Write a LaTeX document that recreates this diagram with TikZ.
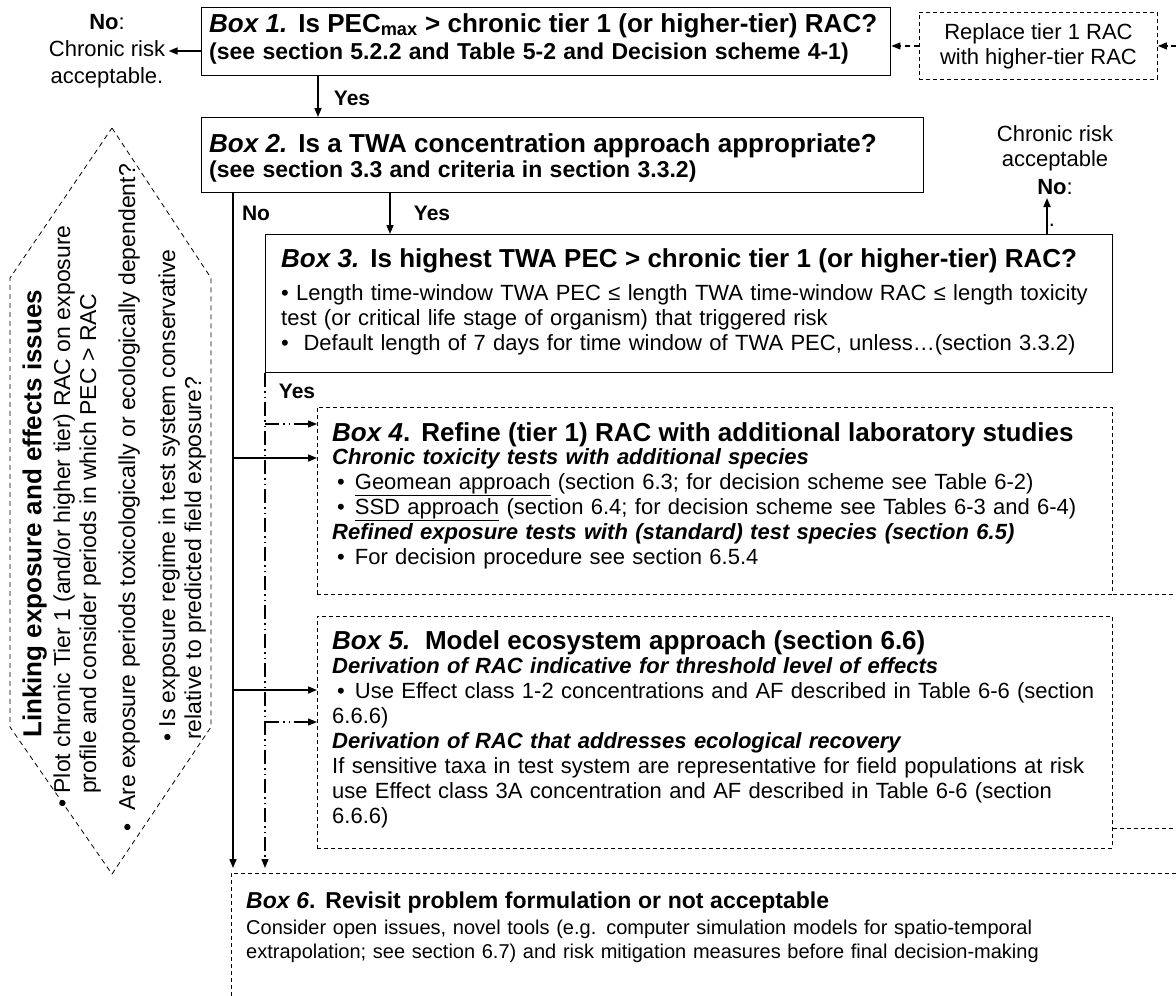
\documentclass[tikz,border=0pt]{standalone}
\usepackage{fontspec}
\setmainfont{Liberation Sans}
\usetikzlibrary{arrows.meta}

\newcommand\txtfont{\fontsize{22}{25}\selectfont}
\newcommand\headfont{\fontsize{26}{28}\selectfont\bfseries}
\newcommand\subfont{\fontsize{23}{25}\selectfont\bfseries}
\newcommand\lblfont{\fontsize{21}{24}\selectfont\bfseries}
\newcommand\sidefont{\fontsize{23}{25}\selectfont}
\newcommand\smalltxtfont{\fontsize{20}{24.5}\selectfont}

\begin{document}
\begin{tikzpicture}[x=1pt, y=-1pt, >={Triangle[length=9pt, width=7pt]},
  solidbox/.style={draw, line width=1.4pt, inner sep=0pt, anchor=north west},
  dashbox/.style={draw, line width=0.9pt, dash pattern=on 4pt off 3pt, inner sep=0pt, anchor=north west},
  boxtext/.style={font=\txtfont, align=left, inner sep=0pt, anchor=base west},
  yesno/.style={font=\lblfont, inner sep=0pt},
  flow/.style={->, line width=1.6pt},
  dashflow/.style={->, line width=1.1pt, dash pattern=on 5pt off 4pt},
  dashdot/.style={line width=1.2pt, dash pattern=on 14pt off 4pt on 1.5pt off 4pt on 1.5pt off 4pt},
  sidetext/.style={font=\sidefont, rotate=90, anchor=base west, inner sep=0pt}]

\useasboundingbox (0,0) rectangle (1176,996);
\coordinate (edge) at (1176,0);

% box 1, with the replace box on its right
\node[solidbox, minimum width=689, minimum height=68] (box1) at (201,7) {};
\node[boxtext, text width=680] (box1txt) at (209,32) {{\headfont\textit{Box 1.} Is PEC\textsubscript{max} > chronic tier 1 (or higher-tier) RAC?}\\[2pt]{\subfont (see section 5.2.2 and Table 5-2 and Decision scheme 4-1)}};
\node[dashbox, minimum width=238, minimum height=67, align=center, font=\txtfont] (repl) at (919,12) {Replace tier 1 RAC\\with higher-tier RAC};
\draw[dashflow] (repl.west) -- (repl.west -| box1.east);
\draw[dashflow] (repl.east -| edge) -- (repl.east);
\node[font=\txtfont, align=center] (norisk1) at (107,51) {\textbf{No}:\\[2pt]Chronic risk\\[2pt]acceptable.};
\draw[flow] (box1.west |- norisk1) -- (norisk1.east);

% box 2
\node[solidbox, minimum width=722, minimum height=75] (box2) at (201,117) {};
\node[boxtext, text width=715] (box2txt) at (209,152.5) {{\headfont\textit{Box 2.} Is a TWA concentration approach appropriate?}\\[0pt]{\subfont (see section 3.3 and criteria in section 3.3.2)}};
\coordinate (a1) at (318,0);
\draw[flow] (a1 |- box1.south) -- (a1 |- box2.north);
\node[yesno] (yes1) at (352,98) {Yes};

% box 3
\node[solidbox, minimum width=847, minimum height=138] (box3) at (265,234) {};
\node[boxtext, text width=830] (box3txt) at (281,267.5) {{\headfont\textit{Box 3.} Is highest TWA PEC > chronic tier 1 (or higher-tier) RAC?}\\[7.5pt]
\textbullet\ Length time-window TWA PEC ≤ length TWA time-window RAC ≤ length toxicity\\
test (or critical life stage of organism) that triggered risk\\
\textbullet\ \ Default length of 7 days for time window of TWA PEC, unless…(section 3.3.2)};
\coordinate (a3) at (390,0);
\draw[flow] (a3 |- box2.south) -- (a3 |- box3.north);
\node[yesno] (yes2) at (432,213) {Yes};
\node[yesno] (no1) at (256,213) {No};
\node[font=\txtfont, align=center, anchor=south] (norisk2) at (1055,198) {Chronic risk\\acceptable\\[3pt]\textbf{No}:};
\node[font=\txtfont, inner sep=0pt] (dotmark) at (1052,225) {.};
\coordinate (a4) at (1047,0);
\draw[flow] (a4 |- box3.north) -- (a4 |- norisk2.south);

% box 4
\node[dashbox, minimum width=795, minimum height=187] (box4) at (317,407) {};
\node[boxtext, text width=790] (box4txt) at (332,441.5) {{\headfont\textit{Box 4}. Refine (tier 1) RAC with additional laboratory studies}\\[-2pt]
\textbf{\textit{Chronic toxicity tests with additional species}}\\
\hspace*{5pt}\textbullet\hspace{10pt}\underline{Geomean approach} (section 6.3; for decision scheme see Table 6-2)\\
\hspace*{5pt}\textbullet\hspace{10pt}\underline{SSD approach} (section 6.4; for decision scheme see Tables 6-3 and 6-4)\\
\textbf{\textit{Refined exposure tests with (standard) test species (section 6.5)}}\\
\hspace*{5pt}\textbullet\hspace{10pt}For decision procedure see section 6.5.4};
\draw[line width=0.9pt, dash pattern=on 4pt off 3pt] (box4.south east) -- (box4.south east -| edge);

% box 5
\node[dashbox, minimum width=795, minimum height=232] (box5) at (317,616) {};
\node[boxtext, text width=790] (box5txt) at (332,649.5) {{\headfont\textit{Box 5.}\ \ Model ecosystem approach (section 6.6)}\\[-1pt]
\textbf{\textit{Derivation of RAC indicative for threshold level of effects}}\\
\hspace*{5pt}\textbullet\hspace{10pt}Use Effect class 1-2 concentrations and AF described in Table 6-6 (section\\
6.6.6)\\
\textbf{\textit{Derivation of RAC that addresses ecological recovery}}\\
If sensitive taxa in test system are representative for field populations at risk\\
use Effect class 3A concentration and AF described in Table 6-6 (section\\
6.6.6)};
\draw[line width=0.9pt, dash pattern=on 4pt off 3pt] (box5.south east) ++(0,-20) -- ++(64,0);

% box 6, open to the right and below
\coordinate (b6) at (231,873);
\draw[line width=0.9pt, dash pattern=on 4pt off 3pt] (b6 -| edge) -- (b6) -- (b6 |- 0,996);
\node[boxtext, font=\smalltxtfont, text width=910] (box6txt) at (246,908) {{\fontsize{23}{25}\selectfont\bfseries\textit{Box 6}. Revisit problem formulation or not acceptable}\\[1.5pt]
Consider open issues, novel tools (e.g. computer simulation models for spatio-temporal\\
extrapolation; see section 6.7) and risk mitigation measures before final decision-making};

% the No branch
\coordinate (a2) at (233,0);
\coordinate (r4a) at (0,424);
\coordinate (r4b) at (0,458);
\coordinate (r5a) at (0,690);
\coordinate (r5b) at (0,722);
\draw[flow, shorten >=5pt] (a2 |- box2.south) -- (a2 |- b6);
\draw[flow] (a2 |- r4b) -- (box4.west |- r4b);
\draw[flow] (a2 |- r5a) -- (box5.west |- r5a);

% the Yes branch of box 3
\draw[dashdot, ->, shorten >=5pt] (box3.south west) -- (box3.south west |- b6);
\draw[dashdot, ->] (box3.south west |- r4a) -- (box4.west |- r4a);
\draw[dashdot, ->] (box3.south west |- r5b) -- (box5.west |- r5b);
\node[yesno] (yes3) at (297,391) {Yes};

% linking exposure and effects
\draw[line width=0.8pt, dash pattern=on 5pt off 4pt] (112,128) coordinate (h1) -- (211,278) coordinate (h2) -- (211,727) coordinate (h3) -- (112,874) coordinate (h4) -- (10,727) coordinate (h5) -- (10,278) coordinate (h6) -- cycle;
\node[sidetext, font=\headfont] (hx1) at (41.5,738) {Linking exposure and effects issues};
\node[sidetext] (hx2) at (70,808) {\textbullet\ Plot chronic Tier 1 (and/or higher tier) RAC on exposure};
\node[sidetext] (hx3) at (96,794) {profile and consider periods in which PEC > RAC};
\node[sidetext] (hx4) at (135,832) {\textbullet\ \ Are exposure periods toxicologically or ecologically dependent?};
\node[sidetext] (hx5) at (175,742) {\textbullet\ Is exposure regime in test system conservative};
\node[sidetext] (hx6) at (201,740) {relative to predicted field exposure?};

\end{tikzpicture}
\end{document}
